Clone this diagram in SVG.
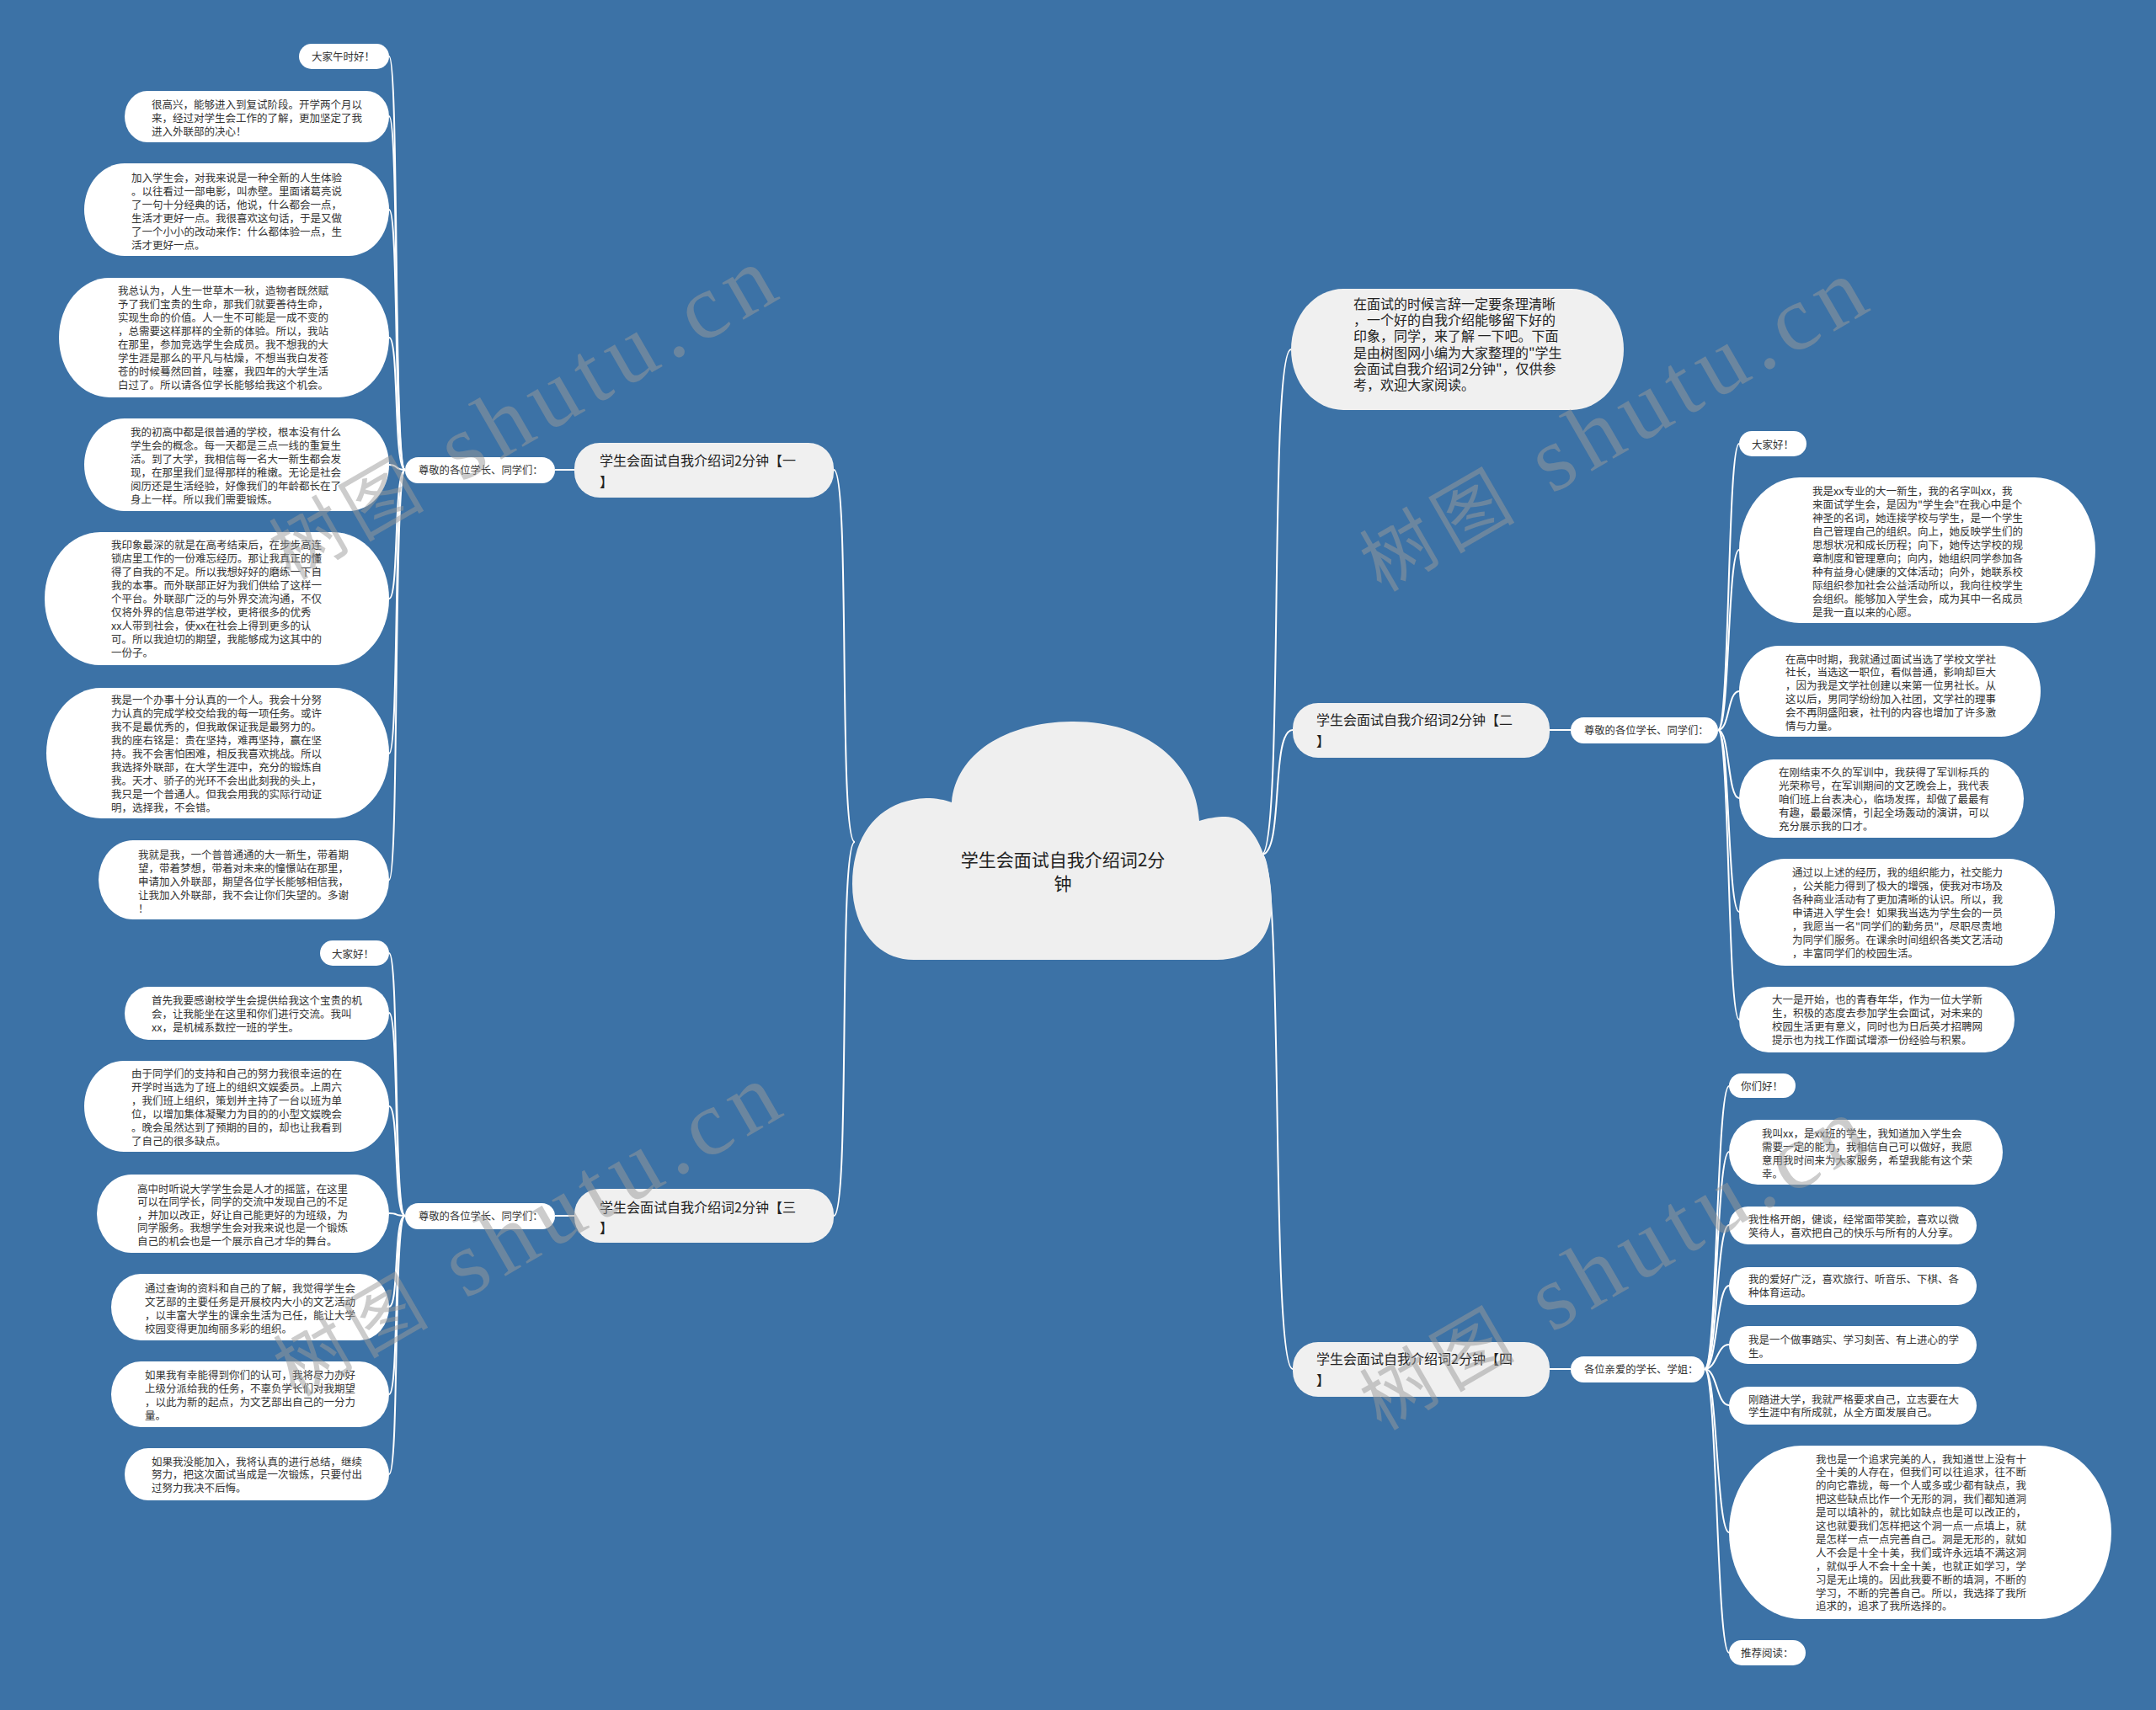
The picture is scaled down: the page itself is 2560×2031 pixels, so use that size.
<svg xmlns="http://www.w3.org/2000/svg" width="2560" height="2031" viewBox="0 0 2560 2031">
<style>
.bg{fill:#3c72a6}
.leaf{fill:#ffffff}
.br{fill:#f0f0f0}
.lbl{fill:#ffffff}
.t{font-family:"Noto Sans CJK SC","Noto Sans",sans-serif;font-size:12.5px;fill:#333333}
.tl{font-family:"Noto Sans CJK SC","Noto Sans",sans-serif;font-size:12.3px;fill:#333333}
.tb{font-family:"Noto Sans CJK SC","Noto Sans",sans-serif;font-size:16px;fill:#222222}
.ti{font-family:"Noto Sans CJK SC","Noto Sans",sans-serif;font-size:16px;fill:#222222}
.tc{font-family:"Noto Sans CJK SC","Noto Sans",sans-serif;font-size:21px;fill:#222222}
.conn{stroke:#ffffff;stroke-width:2;fill:none}
.wm{font-family:"Liberation Serif","Noto Sans CJK SC",serif;font-size:110px;fill:#9a9a9a;opacity:0.5;letter-spacing:10px}
</style>
<rect class="bg" x="0" y="0" width="2560" height="2031"/>

<g id="connectors">
<path class="conn" d="M1015 1000 C995 1000 1010 558 990 558"/>
<path class="conn" d="M1015 1000 C995 1000 1010 1444 990 1444"/>
<path class="conn" d="M1498 1015 C1525 1015 1506 415 1533 415"/>
<path class="conn" d="M1498 1015 C1525 1015 1508 867 1535 867"/>
<path class="conn" d="M1498 1015 C1525 1015 1508 1626 1535 1626"/>
<path class="conn" d="M659 558 L682 558"/>
<path class="conn" d="M659 1444 L682 1444"/>
<path class="conn" d="M1840 867 L1865 867"/>
<path class="conn" d="M1840 1626 L1865 1626"/>
<path class="conn" d="M481 558 C467 558 474 67 462 67"/>
<path class="conn" d="M481 558 C467 558 474 138 462 138"/>
<path class="conn" d="M481 558 C467 558 474 249 462 249"/>
<path class="conn" d="M481 558 C467 558 474 401 462 401"/>
<path class="conn" d="M481 558 C467 558 474 552 462 552"/>
<path class="conn" d="M481 558 C467 558 474 711 462 711"/>
<path class="conn" d="M481 558 C467 558 474 895 462 895"/>
<path class="conn" d="M481 558 C467 558 474 1045 462 1045"/>
<path class="conn" d="M481 1444 C467 1444 474 1132 462 1132"/>
<path class="conn" d="M481 1444 C467 1444 474 1203 462 1203"/>
<path class="conn" d="M481 1444 C467 1444 474 1314 462 1314"/>
<path class="conn" d="M481 1444 C467 1444 474 1441 462 1441"/>
<path class="conn" d="M481 1444 C467 1444 474 1552 462 1552"/>
<path class="conn" d="M481 1444 C467 1444 474 1656 462 1656"/>
<path class="conn" d="M481 1444 C467 1444 474 1751 462 1751"/>
<path class="conn" d="M2040 867 C2054 867 2051 527 2065 527"/>
<path class="conn" d="M2040 867 C2054 867 2051 653 2065 653"/>
<path class="conn" d="M2040 867 C2054 867 2051 821 2065 821"/>
<path class="conn" d="M2040 867 C2054 867 2051 948 2065 948"/>
<path class="conn" d="M2040 867 C2054 867 2051 1083 2065 1083"/>
<path class="conn" d="M2040 867 C2054 867 2051 1211 2065 1211"/>
<path class="conn" d="M2024 1626 C2039 1626 2038 1290 2053 1290"/>
<path class="conn" d="M2024 1626 C2039 1626 2038 1368 2053 1368"/>
<path class="conn" d="M2024 1626 C2039 1626 2038 1455 2053 1455"/>
<path class="conn" d="M2024 1626 C2039 1626 2038 1527 2053 1527"/>
<path class="conn" d="M2024 1626 C2039 1626 2038 1597 2053 1597"/>
<path class="conn" d="M2024 1626 C2039 1626 2038 1669 2053 1669"/>
<path class="conn" d="M2024 1626 C2039 1626 2038 1820 2053 1820"/>
<path class="conn" d="M2024 1626 C2039 1626 2038 1963 2053 1963"/>
</g>

<g id="center">
<path fill="#efefef" d="M1085 1140 C1040 1140 1012 1100 1012 1050 C1012 990 1045 950 1100 948 C1112 948 1122 950 1130 953 C1135 895 1195 857 1275 857 C1360 857 1420 905 1424 975 C1432 972 1445 970 1455 970 C1488 970 1510 1020 1510 1075 C1510 1115 1485 1140 1445 1140 Z"/>
<text class="tc" text-anchor="middle"><tspan x="1262" y="1029">学生会面试自我介绍词2分</tspan><tspan x="1262" y="1057">钟</tspan></text>
</g>

<g id="intro">
<rect class="br" x="1533" y="343" width="395" height="144" rx="62" ry="72"/>
<text class="ti"><tspan x="1607" y="367">在面试的时候言辞一定要条理清晰</tspan><tspan x="1607" dy="19.2">，一个好的自我介绍能够留下好的</tspan><tspan x="1607" dy="19.2">印象，同学，来了解 一下吧。下面</tspan><tspan x="1607" dy="19.2">是由树图网小编为大家整理的"学生</tspan><tspan x="1607" dy="19.2">会面试自我介绍词2分钟"，仅供参</tspan><tspan x="1607" dy="19.2">考，欢迎大家阅读。</tspan></text>
</g>

<g id="branch1">
<rect class="br" x="682" y="526" width="308" height="65" rx="30"/>
<text class="tb"><tspan x="712" y="553">学生会面试自我介绍词2分钟【一</tspan><tspan x="712" y="578">】</tspan></text>
</g>
<g id="branch2">
<rect class="br" x="1535" y="835" width="305" height="65" rx="30"/>
<text class="tb"><tspan x="1563" y="861">学生会面试自我介绍词2分钟【二</tspan><tspan x="1563" y="886">】</tspan></text>
</g>
<g id="branch3">
<rect class="br" x="682" y="1412" width="308" height="64" rx="30"/>
<text class="tb"><tspan x="712" y="1440">学生会面试自我介绍词2分钟【三</tspan><tspan x="712" y="1464">】</tspan></text>
</g>
<g id="branch4">
<rect class="br" x="1535" y="1594" width="305" height="65" rx="30"/>
<text class="tb"><tspan x="1563" y="1620">学生会面试自我介绍词2分钟【四</tspan><tspan x="1563" y="1645">】</tspan></text>
</g>

<g id="label1"><rect class="lbl" x="481" y="543" width="178" height="31" rx="15.5"/><text class="tl" x="497" y="563">尊敬的各位学长、同学们：</text></g>
<g id="label2"><rect class="lbl" x="1865" y="852" width="175" height="31" rx="15.5"/><text class="tl" x="1881" y="872">尊敬的各位学长、同学们：</text></g>
<g id="label3"><rect class="lbl" x="481" y="1429" width="178" height="31" rx="15.5"/><text class="tl" x="497" y="1449">尊敬的各位学长、同学们：</text></g>
<g id="label4"><rect class="lbl" x="1865" y="1611" width="159" height="31" rx="15.5"/><text class="tl" x="1881" y="1631">各位亲爱的学长、学姐：</text></g>

<g id="l1"><rect class="leaf" x="355" y="52" width="107" height="30" rx="15"/><text class="t" x="370" y="71.5">大家午时好！</text></g>
<g id="l2"><rect class="leaf" x="148" y="108" width="314" height="61" rx="27" ry="30.5"/><text class="t"><tspan x="180" y="128.5">很高兴，能够进入到复试阶段。开学两个月以</tspan><tspan x="180" dy="16.1">来，经过对学生会工作的了解，更加坚定了我</tspan><tspan x="180" dy="16.1">进入外联部的决心！</tspan></text></g>
<g id="l3"><rect class="leaf" x="100" y="194" width="362" height="110" rx="48" ry="55"/><text class="t"><tspan x="156" y="215.5">加入学生会，对我来说是一种全新的人生体验</tspan><tspan x="156" dy="16.1">。以往看过一部电影，叫赤壁。里面诸葛亮说</tspan><tspan x="156" dy="16.1">了一句十分经典的话，他说，什么都会一点，</tspan><tspan x="156" dy="16.1">生活才更好一点。我很喜欢这句话，于是又做</tspan><tspan x="156" dy="16.1">了一个小小的改动来作：什么都体验一点，生</tspan><tspan x="156" dy="16.1">活才更好一点。</tspan></text></g>
<g id="l4"><rect class="leaf" x="70" y="330" width="392" height="142" rx="60" ry="71"/><text class="t"><tspan x="140" y="349.5">我总认为，人生一世草木一秋，造物者既然赋</tspan><tspan x="140" dy="16.1">予了我们宝贵的生命，那我们就要善待生命，</tspan><tspan x="140" dy="16.1">实现生命的价值。人一生不可能是一成不变的</tspan><tspan x="140" dy="16.1">，总需要这样那样的全新的体验。所以，我站</tspan><tspan x="140" dy="16.1">在那里，参加竞选学生会成员。我不想我的大</tspan><tspan x="140" dy="16.1">学生涯是那么的平凡与枯燥，不想当我白发苍</tspan><tspan x="140" dy="16.1">苍的时候蓦然回首，哇塞，我四年的大学生活</tspan><tspan x="140" dy="16.1">白过了。所以请各位学长能够给我这个机会。</tspan></text></g>
<g id="l5"><rect class="leaf" x="100" y="497" width="362" height="110" rx="48" ry="55"/><text class="t"><tspan x="155" y="517.5">我的初高中都是很普通的学校，根本没有什么</tspan><tspan x="155" dy="16.1">学生会的概念。每一天都是三点一线的重复生</tspan><tspan x="155" dy="16.1">活。到了大学，我相信每一名大一新生都会发</tspan><tspan x="155" dy="16.1">现，在那里我们显得那样的稚嫩。无论是社会</tspan><tspan x="155" dy="16.1">阅历还是生活经验，好像我们的年龄都长在了</tspan><tspan x="155" dy="16.1">身上一样。所以我们需要锻炼。</tspan></text></g>
<g id="l6"><rect class="leaf" x="53" y="632" width="409" height="158" rx="66" ry="79"/><text class="t"><tspan x="132" y="651.5">我印象最深的就是在高考结束后，在步步高连</tspan><tspan x="132" dy="16.1">锁店里工作的一份难忘经历。那让我真正的懂</tspan><tspan x="132" dy="16.1">得了自我的不足。所以我想好好的磨练一下自</tspan><tspan x="132" dy="16.1">我的本事。而外联部正好为我们供给了这样一</tspan><tspan x="132" dy="16.1">个平台。外联部广泛的与外界交流沟通，不仅</tspan><tspan x="132" dy="16.1">仅将外界的信息带进学校，更将很多的优秀</tspan><tspan x="132" dy="16.1">xx人带到社会，使xx在社会上得到更多的认</tspan><tspan x="132" dy="16.1">可。所以我迫切的期望，我能够成为这其中的</tspan><tspan x="132" dy="16.1">一份子。</tspan></text></g>
<g id="l7"><rect class="leaf" x="55" y="817" width="407" height="155" rx="65" ry="77.5"/><text class="t"><tspan x="132" y="835.5">我是一个办事十分认真的一个人。我会十分努</tspan><tspan x="132" dy="16.1">力认真的完成学校交给我的每一项任务。或许</tspan><tspan x="132" dy="16.1">我不是最优秀的，但我敢保证我是最努力的。</tspan><tspan x="132" dy="16.1">我的座右铭是：贵在坚持，难再坚持，赢在坚</tspan><tspan x="132" dy="16.1">持。我不会害怕困难，相反我喜欢挑战。所以</tspan><tspan x="132" dy="16.1">我选择外联部，在大学生涯中，充分的锻炼自</tspan><tspan x="132" dy="16.1">我。天才、骄子的光环不会出此刻我的头上，</tspan><tspan x="132" dy="16.1">我只是一个普通人。但我会用我的实际行动证</tspan><tspan x="132" dy="16.1">明，选择我，不会错。</tspan></text></g>
<g id="l8"><rect class="leaf" x="117" y="998" width="345" height="94" rx="41" ry="47"/><text class="t"><tspan x="164" y="1019.5">我就是我，一个普普通通的大一新生，带着期</tspan><tspan x="164" dy="16">望，带着梦想，带着对未来的憧憬站在那里，</tspan><tspan x="164" dy="16">申请加入外联部，期望各位学长能够相信我，</tspan><tspan x="164" dy="16">让我加入外联部，我不会让你们失望的。多谢</tspan><tspan x="164" dy="16">！</tspan></text></g>

<g id="l9"><rect class="leaf" x="380" y="1117" width="82" height="30" rx="15"/><text class="t" x="394" y="1137.5">大家好！</text></g>
<g id="l10"><rect class="leaf" x="148" y="1172" width="314" height="63" rx="28" ry="31.5"/><text class="t"><tspan x="180" y="1192.5">首先我要感谢校学生会提供给我这个宝贵的机</tspan><tspan x="180" dy="16.3">会，让我能坐在这里和你们进行交流。我叫</tspan><tspan x="180" dy="16.3">xx，是机械系数控一班的学生。</tspan></text></g>
<g id="l11"><rect class="leaf" x="100" y="1260" width="362" height="108" rx="47" ry="54"/><text class="t"><tspan x="156" y="1279.5">由于同学们的支持和自己的努力我很幸运的在</tspan><tspan x="156" dy="16.1">开学时当选为了班上的组织文娱委员。上周六</tspan><tspan x="156" dy="16.1">，我们班上组织，策划并主持了一台以班为单</tspan><tspan x="156" dy="16.1">位，以增加集体凝聚力为目的的小型文娱晚会</tspan><tspan x="156" dy="16.1">。晚会虽然达到了预期的目的，却也让我看到</tspan><tspan x="156" dy="16.1">了自己的很多缺点。</tspan></text></g>
<g id="l12"><rect class="leaf" x="115" y="1395" width="347" height="93" rx="41" ry="46.5"/><text class="t"><tspan x="163" y="1416.5">高中时听说大学学生会是人才的摇篮，在这里</tspan><tspan x="163" dy="15.6">可以在同学长，同学的交流中发现自己的不足</tspan><tspan x="163" dy="15.6">，并加以改正，好让自己能更好的为班级，为</tspan><tspan x="163" dy="15.6">同学服务。我想学生会对我来说也是一个锻炼</tspan><tspan x="163" dy="15.6">自己的机会也是一个展示自己才华的舞台。</tspan></text></g>
<g id="l13"><rect class="leaf" x="132" y="1513" width="330" height="79" rx="35" ry="39.5"/><text class="t"><tspan x="172" y="1534.5">通过查询的资料和自己的了解，我觉得学生会</tspan><tspan x="172" dy="16">文艺部的主要任务是开展校内大小的文艺活动</tspan><tspan x="172" dy="16">，以丰富大学生的课余生活为己任，能让大学</tspan><tspan x="172" dy="16">校园变得更加绚丽多彩的组织。</tspan></text></g>
<g id="l14"><rect class="leaf" x="132" y="1617" width="330" height="78" rx="35" ry="39"/><text class="t"><tspan x="172" y="1637.5">如果我有幸能得到你们的认可，我将尽力办好</tspan><tspan x="172" dy="16">上级分派给我的任务，不辜负学长们对我期望</tspan><tspan x="172" dy="16">，以此为新的起点，为文艺部出自己的一分力</tspan><tspan x="172" dy="16">量。</tspan></text></g>
<g id="l15"><rect class="leaf" x="148" y="1720" width="314" height="62" rx="28" ry="31"/><text class="t"><tspan x="180" y="1740.5">如果我没能加入，我将认真的进行总结，继续</tspan><tspan x="180" dy="15.7">努力，把这次面试当成是一次锻炼，只要付出</tspan><tspan x="180" dy="15.7">过努力我决不后悔。</tspan></text></g>

<g id="r1"><rect class="leaf" x="2065" y="512" width="80" height="30" rx="15"/><text class="t" x="2080" y="532.5">大家好！</text></g>
<g id="r2"><rect class="leaf" x="2065" y="567" width="423" height="173" rx="72" ry="86.5"/><text class="t"><tspan x="2152" y="587.5">我是xx专业的大一新生，我的名字叫xx，我</tspan><tspan x="2152" dy="16">来面试学生会，是因为"学生会"在我心中是个</tspan><tspan x="2152" dy="16">神圣的名词，她连接学校与学生，是一个学生</tspan><tspan x="2152" dy="16">自己管理自己的组织。向上，她反映学生们的</tspan><tspan x="2152" dy="16">思想状况和成长历程；向下，她传达学校的规</tspan><tspan x="2152" dy="16">章制度和管理意向；向内，她组织同学参加各</tspan><tspan x="2152" dy="16">种有益身心健康的文体活动；向外，她联系校</tspan><tspan x="2152" dy="16">际组织参加社会公益活动所以，我向往校学生</tspan><tspan x="2152" dy="16">会组织。能够加入学生会，成为其中一名成员</tspan><tspan x="2152" dy="16">是我一直以来的心愿。</tspan></text></g>
<g id="r3"><rect class="leaf" x="2065" y="767" width="358" height="108" rx="47" ry="54"/><text class="t"><tspan x="2120" y="787.5">在高中时期，我就通过面试当选了学校文学社</tspan><tspan x="2120" dy="15.8">社长，当选这一职位，看似普通，影响却巨大</tspan><tspan x="2120" dy="15.8">，因为我是文学社创建以来第一位男社长。从</tspan><tspan x="2120" dy="15.8">这以后，男同学纷纷加入社团，文学社的理事</tspan><tspan x="2120" dy="15.8">会不再阴盛阳衰，社刊的内容也增加了许多激</tspan><tspan x="2120" dy="15.8">情与力量。</tspan></text></g>
<g id="r4"><rect class="leaf" x="2065" y="902" width="338" height="93" rx="41" ry="46.5"/><text class="t"><tspan x="2112" y="921.5">在刚结束不久的军训中，我获得了军训标兵的</tspan><tspan x="2112" dy="16">光荣称号，在军训期间的文艺晚会上，我代表</tspan><tspan x="2112" dy="16">咱们班上台表决心，临场发挥，却做了最最有</tspan><tspan x="2112" dy="16">有趣，最最深情，引起全场轰动的演讲，可以</tspan><tspan x="2112" dy="16">充分展示我的口才。</tspan></text></g>
<g id="r5"><rect class="leaf" x="2065" y="1020" width="375" height="127" rx="55" ry="63.5"/><text class="t"><tspan x="2128" y="1040.5">通过以上述的经历，我的组织能力，社交能力</tspan><tspan x="2128" dy="16">，公关能力得到了极大的增强，使我对市场及</tspan><tspan x="2128" dy="16">各种商业活动有了更加清晰的认识。所以，我</tspan><tspan x="2128" dy="16">申请进入学生会！如果我当选为学生会的一员</tspan><tspan x="2128" dy="16">，我愿当一名"同学们的勤务员"，尽职尽责地</tspan><tspan x="2128" dy="16">为同学们服务。在课余时间组织各类文艺活动</tspan><tspan x="2128" dy="16">，丰富同学们的校园生活。</tspan></text></g>
<g id="r6"><rect class="leaf" x="2065" y="1172" width="327" height="78" rx="35" ry="39"/><text class="t"><tspan x="2104" y="1191.5">大一是开始，也的青春年华，作为一位大学新</tspan><tspan x="2104" dy="16">生，积极的态度去参加学生会面试，对未来的</tspan><tspan x="2104" dy="16">校园生活更有意义，同时也为日后英才招聘网</tspan><tspan x="2104" dy="16">提示也为找工作面试增添一份经验与积累。</tspan></text></g>

<g id="b1"><rect class="leaf" x="2053" y="1275" width="79" height="29" rx="14.5"/><text class="t" x="2067" y="1295">你们好！</text></g>
<g id="b2"><rect class="leaf" x="2053" y="1330" width="325" height="77" rx="34" ry="38.5"/><text class="t"><tspan x="2092" y="1350.5">我叫xx，是xx班的学生，我知道加入学生会</tspan><tspan x="2092" dy="16">需要一定的能力，我相信自己可以做好，我愿</tspan><tspan x="2092" dy="16">意用我时间来为大家服务，希望我能有这个荣</tspan><tspan x="2092" dy="16">幸。</tspan></text></g>
<g id="b3"><rect class="leaf" x="2053" y="1433" width="294" height="45" rx="22.5"/><text class="t"><tspan x="2076" y="1453">我性格开朗，健谈，经常面带笑脸，喜欢以微</tspan><tspan x="2076" dy="15.5">笑待人，喜欢把自己的快乐与所有的人分享。</tspan></text></g>
<g id="b4"><rect class="leaf" x="2053" y="1505" width="294" height="45" rx="22.5"/><text class="t"><tspan x="2076" y="1524">我的爱好广泛，喜欢旅行、听音乐、下棋、各</tspan><tspan x="2076" dy="16">种体育运动。</tspan></text></g>
<g id="b5"><rect class="leaf" x="2053" y="1575" width="294" height="45" rx="22.5"/><text class="t"><tspan x="2076" y="1595.5">我是一个做事踏实、学习刻苦、有上进心的学</tspan><tspan x="2076" dy="16">生。</tspan></text></g>
<g id="b6"><rect class="leaf" x="2053" y="1647" width="294" height="45" rx="22.5"/><text class="t"><tspan x="2076" y="1666.5">刚踏进大学，我就严格要求自己，立志要在大</tspan><tspan x="2076" dy="15.7">学生涯中有所成就，从全方面发展自己。</tspan></text></g>
<g id="b7"><rect class="leaf" x="2053" y="1717" width="454" height="206" rx="86" ry="103"/><text class="t"><tspan x="2156" y="1737.5">我也是一个追求完美的人，我知道世上没有十</tspan><tspan x="2156" dy="15.9">全十美的人存在，但我们可以往追求，往不断</tspan><tspan x="2156" dy="15.9">的向它靠拢，每一个人或多或少都有缺点，我</tspan><tspan x="2156" dy="15.9">把这些缺点比作一个无形的洞，我们都知道洞</tspan><tspan x="2156" dy="15.9">是可以填补的，就比如缺点也是可以改正的，</tspan><tspan x="2156" dy="15.9">这也就要我们怎样把这个洞一点一点填上，就</tspan><tspan x="2156" dy="15.9">是怎样一点一点完善自己。洞是无形的，就如</tspan><tspan x="2156" dy="15.9">人不会是十全十美，我们或许永远填不满这洞</tspan><tspan x="2156" dy="15.9">，就似乎人不会十全十美，也就正如学习，学</tspan><tspan x="2156" dy="15.9">习是无止境的。因此我要不断的填洞，不断的</tspan><tspan x="2156" dy="15.9">学习，不断的完善自己。所以，我选择了我所</tspan><tspan x="2156" dy="15.9">追求的，追求了我所选择的。</tspan></text></g>
<g id="b8"><rect class="leaf" x="2053" y="1948" width="91" height="30" rx="15"/><text class="t" x="2067" y="1968">推荐阅读：</text></g>

<g id="watermarks">
<text class="wm" transform="translate(345 690) rotate(-30)"><tspan font-family="Noto Sans CJK SC, sans-serif" font-size="88">树图</tspan> shutu.cn</text>
<text class="wm" transform="translate(350 1660) rotate(-30)"><tspan font-family="Noto Sans CJK SC, sans-serif" font-size="88">树图</tspan> shutu.cn</text>
<text class="wm" transform="translate(1640 704) rotate(-30)"><tspan font-family="Noto Sans CJK SC, sans-serif" font-size="88">树图</tspan> shutu.cn</text>
<text class="wm" transform="translate(1640 1700) rotate(-30)"><tspan font-family="Noto Sans CJK SC, sans-serif" font-size="88">树图</tspan> shutu.cn</text>
</g>
</svg>
